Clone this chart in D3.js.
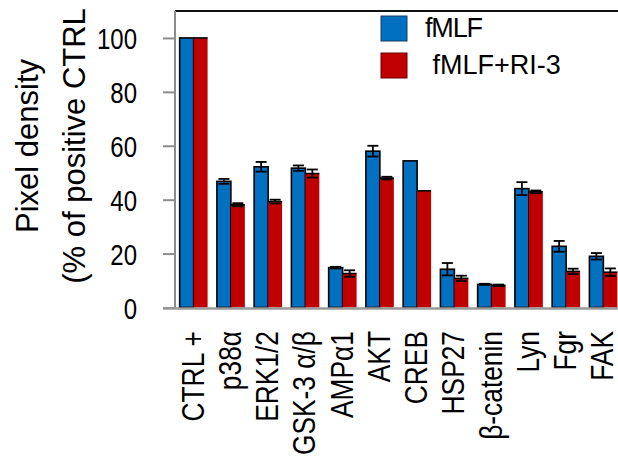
<!DOCTYPE html>
<html>
<head>
<meta charset="utf-8">
<script src="https://cdn.jsdelivr.net/npm/d3@7"></script>
<style>
  body { margin: 0; background: #fff; }
  svg { display: block; }
</style>
</head>
<body>
<script>
var categories = ["CTRL +", "p38\u03b1", "ERK1/2", "GSK-3 \u03b1/\u03b2", "AMP\u03b11", "AKT", "CREB", "HSP27", "\u03b2-catenin", "Lyn", "Fgr", "FAK"];
var seriesNames = ["fMLF", " fMLF+RI-3"];
var fmlf = [100, 46.8, 52.2, 51.7, 14.8, 58.0, 54.4, 14.2, 8.6, 44.1, 22.7, 19.0];
var fmlfErr = [0, 0.9, 1.8, 1.0, 0.3, 2.0, 0, 2.3, 0.2, 2.4, 2.0, 1.2];
var fmlfRi3 = [100, 38.1, 39.3, 49.7, 12.6, 48.0, 43.3, 10.8, 8.2, 42.9, 13.4, 13.1];
var fmlfRi3Err = [0, 0.6, 0.7, 1.5, 1.2, 0.5, 0, 1.0, 0.3, 0.5, 1.0, 1.4];
var yTicks = [0, 20, 40, 60, 80, 100];

var W = 618, H = 460;
var colors = ["#0070C0", "#C00000"];
var font = "'Liberation Sans', Arial, sans-serif";

var svg = d3.select("body").append("svg")
    .attr("width", W)
    .attr("height", H);

var x = d3.scaleBand()
    .domain(categories)
    .range([175, 622])
    .paddingInner(0.25)
    .paddingOuter(0.125);

var x1 = d3.scaleBand()
    .domain([0, 1])
    .range([0, x.bandwidth()]);

var y = d3.scaleLinear()
    .domain([0, 110])
    .range([307.5, 11]);

// top frame line
svg.append("line")
    .attr("x1", 175).attr("x2", W)
    .attr("y1", 11).attr("y2", 11)
    .attr("stroke", "#111").attr("stroke-width", 2);

// y axis (condensed labels)
var yAxis = svg.append("g")
    .attr("transform", "translate(175,0)")
    .call(d3.axisLeft(y).tickValues(yTicks).tickSize(12).tickPadding(25));
yAxis.select(".domain").remove();
yAxis.selectAll(".tick line").attr("stroke", "#8c8c8c").attr("stroke-width", 2);
yAxis.selectAll(".tick text")
    .attr("fill", "#000")
    .attr("x", 0)
    .attr("transform", "translate(-38,0) scale(0.8,1)")
    .style("font-family", font)
    .style("font-size", "30px")
    .attr("dy", "0.36em");
svg.append("line")
    .attr("x1", 175).attr("x2", 175)
    .attr("y1", 11).attr("y2", y(0) + 1)
    .attr("stroke", "#8c8c8c").attr("stroke-width", 2);

var data = categories.map(function(c, i) {
  return {cat: c, vals: [
    {s: 0, v: fmlf[i], e: fmlfErr[i]},
    {s: 1, v: fmlfRi3[i], e: fmlfRi3Err[i]}
  ]};
});

var groups = svg.selectAll(".grp")
    .data(data)
    .enter().append("g")
    .attr("class", "grp")
    .attr("transform", function(d) { return "translate(" + x(d.cat) + ",0)"; });

groups.selectAll("rect")
    .data(function(d) { return d.vals; })
    .enter().append("rect")
    .attr("x", function(d) { return x1(d.s); })
    .attr("width", x1.bandwidth())
    .attr("y", function(d) { return y(d.v); })
    .attr("height", function(d) { return y(0) - y(d.v); })
    .attr("fill", function(d) { return colors[d.s]; })
    .attr("stroke", function(d) { return d.s === 0 ? "#000" : "none"; })
    .attr("stroke-width", 1.6);

// red bars only have a dark top edge
groups.selectAll(".topline")
    .data(function(d) { return d.vals.filter(function(v) { return v.s === 1; }); })
    .enter().append("line")
    .attr("class", "topline")
    .attr("x1", function(d) { return x1(d.s); })
    .attr("x2", function(d) { return x1(d.s) + x1.bandwidth(); })
    .attr("y1", function(d) { return y(d.v); })
    .attr("y2", function(d) { return y(d.v); })
    .attr("stroke", "#000").attr("stroke-width", 1.6);

// error bars
var eb = groups.selectAll(".err")
    .data(function(d) { return d.vals.filter(function(v) { return v.e > 0; }); })
    .enter().append("g")
    .attr("class", "err")
    .attr("stroke", "#000")
    .attr("stroke-width", 1.8);
eb.append("line")
    .attr("x1", function(d) { return x1(d.s) + x1.bandwidth() / 2; })
    .attr("x2", function(d) { return x1(d.s) + x1.bandwidth() / 2; })
    .attr("y1", function(d) { return y(d.v + d.e); })
    .attr("y2", function(d) { return y(d.v - d.e); });
eb.selectAll(".cap")
    .data(function(d) { return [d.v + d.e, d.v - d.e].map(function(t) { return {s: d.s, t: t}; }); })
    .enter().append("line")
    .attr("x1", function(d) { return x1(d.s) + x1.bandwidth() / 2 - 5.5; })
    .attr("x2", function(d) { return x1(d.s) + x1.bandwidth() / 2 + 5.5; })
    .attr("y1", function(d) { return y(d.t); })
    .attr("y2", function(d) { return y(d.t); });

// x axis line
svg.append("line")
    .attr("x1", 163).attr("x2", W)
    .attr("y1", y(0) + 1).attr("y2", y(0) + 1)
    .attr("stroke", "#999").attr("stroke-width", 2.5);

// x labels, condensed along their length
svg.append("g").selectAll("text")
    .data(categories)
    .enter().append("text")
    .attr("transform", function(d) { return "translate(" + (x(d) + x.bandwidth() / 2 + 10) + ",331) rotate(-90) scale(0.85,1)"; })
    .attr("text-anchor", "end")
    .style("font-family", font)
    .style("font-size", "31px")
    .text(function(d) { return d; });

// y title
var title = svg.append("text")
    .attr("transform", "translate(0,146) rotate(-90)")
    .attr("text-anchor", "middle")
    .style("font-family", font)
    .style("font-size", "31px");
title.append("tspan").attr("x", 0).attr("y", 38).text("Pixel density");
title.append("tspan").attr("x", 0).attr("y", 85).text("(% of positive CTRL");

// legend
var legend = svg.append("g").selectAll("g")
    .data(seriesNames)
    .enter().append("g")
    .attr("transform", function(d, i) { return "translate(381," + (16 + i * 37) + ")"; });
legend.append("rect")
    .attr("width", 26).attr("height", 25)
    .attr("fill", function(d, i) { return colors[i]; })
    .attr("stroke", function(d, i) { return i === 0 ? "#1f3b63" : "#6b0000"; })
    .attr("stroke-width", 1);
legend.append("text")
    .attr("x", 44).attr("y", 21)
    .style("white-space", "pre")
    .style("font-family", font)
    .style("font-size", "27px")
    .attr("textLength", function(d, i) { return i === 0 ? 58 : null; })
    .text(function(d) { return d; });
</script>
</body>
</html>
